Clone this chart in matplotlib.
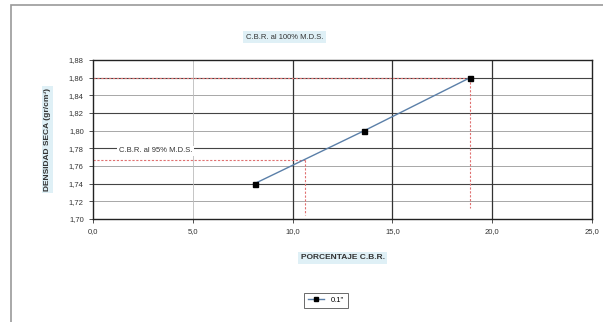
import matplotlib.pyplot as plt
from matplotlib.patches import Rectangle
from matplotlib.ticker import FuncFormatter

plt.rcParams['font.family'] = ['Liberation Sans', 'DejaVu Sans']

# ----------------------------------------
# Data
# ----------------------------------------
cbr = [8.1, 13.6, 18.9]
density = [1.74, 1.80, 1.86]
mds_100 = 1.86
mds_95 = 1.767
cbr_100 = 18.9
cbr_95 = 10.6
x_ticks = [0, 5, 10, 15, 20, 25]
y_ticks = [1.70, 1.72, 1.74, 1.76, 1.78, 1.80, 1.82, 1.84, 1.86, 1.88]

# ----------------------------------------
# Plotting
# ----------------------------------------
fig = plt.figure(figsize=(6.03, 3.22), dpi=100)
ax = fig.add_axes([0.154, 0.320, 0.828, 0.494])

# outer frame
fig.patches.append(Rectangle((0.018, -0.02), 1.0, 1.0 - 0.016 + 0.02,
                             transform=fig.transFigure, fill=False,
                             edgecolor="#999999", linewidth=1.2))

ax.set_xlim(0, 25)
ax.set_ylim(1.70, 1.88)
ax.set_xticks(x_ticks)
ax.set_yticks(y_ticks)
ax.xaxis.set_major_formatter(FuncFormatter(lambda v, p: f"{v:.1f}".replace(".", ",")))
ax.yaxis.set_major_formatter(FuncFormatter(lambda v, p: f"{v:.2f}".replace(".", ",")))
ax.tick_params(labelsize=5.5, colors="#333333", length=3, width=0.6)

# grid
for y in y_ticks[1:-1]:
    light = round(y * 100) % 4 == 0
    ax.axhline(y, color="#999999" if light else "#444444", lw=0.6 if light else 0.8, zorder=0)
for x in x_ticks[1:-1]:
    ax.axvline(x, color="#bbbbbb" if x == 5 else "#333333", lw=0.6 if x == 5 else 0.9, zorder=0)

for s in ax.spines.values():
    s.set_linewidth(1.0)
    s.set_color("#222222")

# red reference lines
red_ls = dict(color="#e07070", ls=(0, (2, 1.5)), lw=0.8)
ax.plot([0, cbr_100], [mds_100, mds_100], **red_ls)
ax.plot([cbr_100, cbr_100], [mds_100, 1.712], **red_ls)
ax.plot([0, cbr_95], [mds_95, mds_95], **red_ls)
ax.plot([cbr_95, cbr_95], [mds_95, 1.705], **red_ls)

# data
ax.plot(cbr, density, color="#5a7fa8", lw=1.0, marker="s", markersize=3.6,
        markerfacecolor="black", markeredgecolor="black", label='0.1"', zorder=5)

ax.text(1.3, 1.777, "C.B.R. al 95% M.D.S.", fontsize=5.5, color="#333333",
        va="center", ha="left", bbox=dict(facecolor="white", edgecolor="none", pad=1))

fig.text(0.472, 0.885, "C.B.R. al 100% M.D.S.", fontsize=5.5, color="#333333",
         ha="center", va="center",
         bbox=dict(facecolor="#dff0f6", edgecolor="none", pad=2))

ax.set_ylabel("DENSIDAD SECA (gr/cm³)", fontsize=6, fontweight="bold", color="#333333",
              labelpad=13, bbox=dict(facecolor="#dff0f6", edgecolor="none", pad=1.5))
ax.set_xlabel("PORCENTAJE C.B.R.", fontsize=6, fontweight="bold", color="#333333",
              labelpad=14, bbox=dict(facecolor="#dff0f6", edgecolor="none", pad=1.5))

leg = fig.legend(loc="center", bbox_to_anchor=(0.54, 0.068), fontsize=5.5,
                 frameon=True, fancybox=False, edgecolor="#444444",
                 handlelength=2.2, borderpad=0.5, markerscale=0.9)
leg.get_frame().set_linewidth(0.7)

fig.savefig("out.png", dpi=100)
